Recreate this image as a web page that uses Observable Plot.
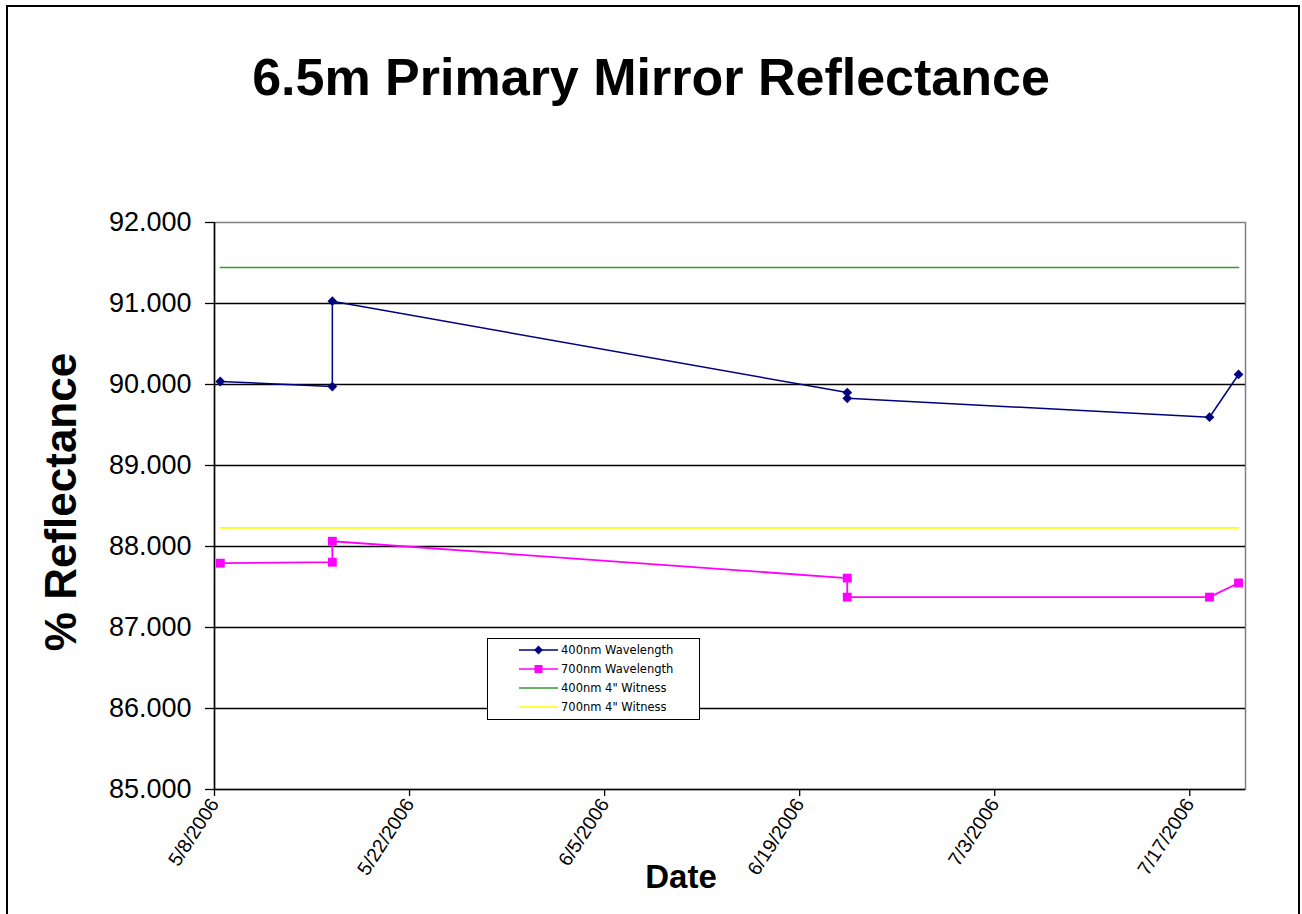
<!DOCTYPE html>
<html><head><meta charset="utf-8">
<script src="https://cdn.jsdelivr.net/npm/d3@7"></script>
<script src="https://cdn.jsdelivr.net/npm/@observablehq/plot@0.6"></script>
<style>
html,body{margin:0;padding:0;background:#fff;overflow:hidden;}
#wrap{position:relative;width:1302px;height:914px;font-family:"Liberation Sans",Arial,sans-serif;color:#000;}
#chart{position:absolute;left:0;top:0;}
#title{position:absolute;left:0;top:51px;width:1302px;text-align:center;font-weight:bold;font-size:52px;line-height:52px;white-space:nowrap;}
#xlabel{position:absolute;left:681px;top:860px;transform:translateX(-50%);font-weight:bold;font-size:33px;line-height:33px;white-space:nowrap;}
#ylabel{position:absolute;left:61px;top:502px;transform:translate(-50%,-50%) rotate(-90deg);font-weight:bold;font-size:44px;line-height:44px;white-space:nowrap;}
#legend{position:absolute;left:487px;top:638px;width:211px;height:80px;border:1px solid #000;background:#fff;}
#border{position:absolute;left:6px;top:5px;width:1294px;height:930px;border:2px solid #000;box-sizing:border-box;pointer-events:none;}
</style></head><body>
<div id="wrap">
  <div id="chart"></div>
  <div id="title">6.5m Primary Mirror Reflectance</div>
  <div id="ylabel">% Reflectance</div>
  <div id="xlabel">Date</div>
  <div id="legend"></div>
  <div id="border"></div>
</div>
<script>
// ---- data ----
const seriesNames = ["400nm Wavelength", "700nm Wavelength", "400nm 4\" Witness", "700nm 4\" Witness"];
const seriesColors = ["#000080", "#FF00FF", "#339933", "#FFFF00"];
const seriesSymbols = ["diamond2", "square", null, null];

const dates400 = ["2006-05-08T10:00", "2006-05-16T11:00", "2006-05-16T11:00", "2006-06-22T10:00", "2006-06-22T10:00", "2006-07-18T10:00", "2006-07-20T12:00"];
const values400 = [90.037, 89.975, 91.028, 89.90, 89.83, 89.596, 90.124];

const dates700 = ["2006-05-08T10:00", "2006-05-16T11:00", "2006-05-16T11:00", "2006-06-22T10:00", "2006-06-22T10:00", "2006-07-18T10:00", "2006-07-20T12:00"];
const values700 = [87.794, 87.806, 88.065, 87.61, 87.375, 87.375, 87.55];

const witnessDates = ["2006-05-08T10:00", "2006-07-20T12:00"];
const witness400 = [91.444, 91.444];
const witness700 = [88.23, 88.23];

const yTicks = [85, 86, 87, 88, 89, 90, 91, 92];
const xTickLabels = ["5/8/2006", "5/22/2006", "6/5/2006", "6/19/2006", "7/3/2006", "7/17/2006"];
const xDomainLabels = ["5/8/2006", "7/21/2006"];

// ---- build ----
const parseT = s => new Date(s + "Z");
const parseD = d3.utcParse("%m/%d/%Y");
const rows = (ds, vs) => ds.map((d, i) => ({date: parseT(d), value: vs[i]}));
const d400 = rows(dates400, values400);
const d700 = rows(dates700, values700);
const w400 = rows(witnessDates, witness400);
const w700 = rows(witnessDates, witness700);
const xTicks = xTickLabels.map(parseD);
const xDomain = xDomainLabels.map(parseD);
const font = "'Liberation Sans', Arial, sans-serif";

const plot = Plot.plot({
  width: 1302, height: 914,
  marginTop: 222, marginLeft: 214, marginRight: 57, marginBottom: 125,
  style: {fontFamily: font, background: "transparent", color: "#000", overflow: "visible"},
  x: {type: "utc", domain: xDomain},
  y: {domain: [yTicks[0], yTicks[yTicks.length - 1]]},
  marks: [
    Plot.frame({stroke: "#808080", strokeWidth: 1.5}),
    Plot.ruleY(yTicks.slice(1, -1), {stroke: "#000", strokeWidth: 1.4}),
    Plot.ruleY([yTicks[0]], {stroke: "#000", strokeWidth: 1.5}),
    Plot.ruleX([xDomain[0]], {stroke: "#000", strokeWidth: 1.5}),
    Plot.axisY({ticks: yTicks, tickFormat: d => d.toFixed(3), tickSize: 9, tickPadding: 14, fontSize: 27, label: null, strokeWidth: 1.3}),
    Plot.axisX({ticks: xTicks, tickFormat: d3.utcFormat("%-m/%-d/%Y"), tickRotate: -57, tickSize: 7, tickPadding: 4, fontSize: 19.5, label: null, strokeWidth: 1.3}),
    Plot.line(w400, {x: "date", y: "value", stroke: seriesColors[2], strokeWidth: 1.6}),
    Plot.line(w700, {x: "date", y: "value", stroke: seriesColors[3], strokeWidth: 1.6}),
    Plot.line(d400, {x: "date", y: "value", stroke: seriesColors[0], strokeWidth: 1.5}),
    Plot.dot(d400, {x: "date", y: "value", symbol: seriesSymbols[0], r: 4.4, fill: seriesColors[0], stroke: "none"}),
    Plot.line(d700, {x: "date", y: "value", stroke: seriesColors[1], strokeWidth: 1.8}),
    Plot.dot(d700, {x: "date", y: "value", symbol: seriesSymbols[1], r: 5, fill: seriesColors[1], stroke: "none"})
  ]
});
document.getElementById("chart").appendChild(plot);

// ---- legend ----
const lg = d3.select("#legend").append("svg").attr("width", 211).attr("height", 80)
  .style("font-family", "'DejaVu Sans', Verdana, sans-serif").style("font-size", "11.5px");
seriesNames.forEach((name, i) => {
  const cy = 11 + i * 19;
  const g = lg.append("g");
  g.append("line").attr("x1", 31).attr("x2", 70).attr("y1", cy).attr("y2", cy)
    .attr("stroke", seriesColors[i]).attr("stroke-width", 1.6);
  if (seriesSymbols[i]) {
    const sym = seriesSymbols[i] === "square" ? d3.symbolSquare : d3.symbolDiamond2;
    g.append("path").attr("d", d3.symbol(sym, seriesSymbols[i] === "square" ? 64 : 50)())
      .attr("transform", `translate(50.5,${cy})`).attr("fill", seriesColors[i]);
  }
  g.append("text").attr("x", 73).attr("y", cy).attr("dy", "0.35em").text(name);
});
</script>
</body></html>
